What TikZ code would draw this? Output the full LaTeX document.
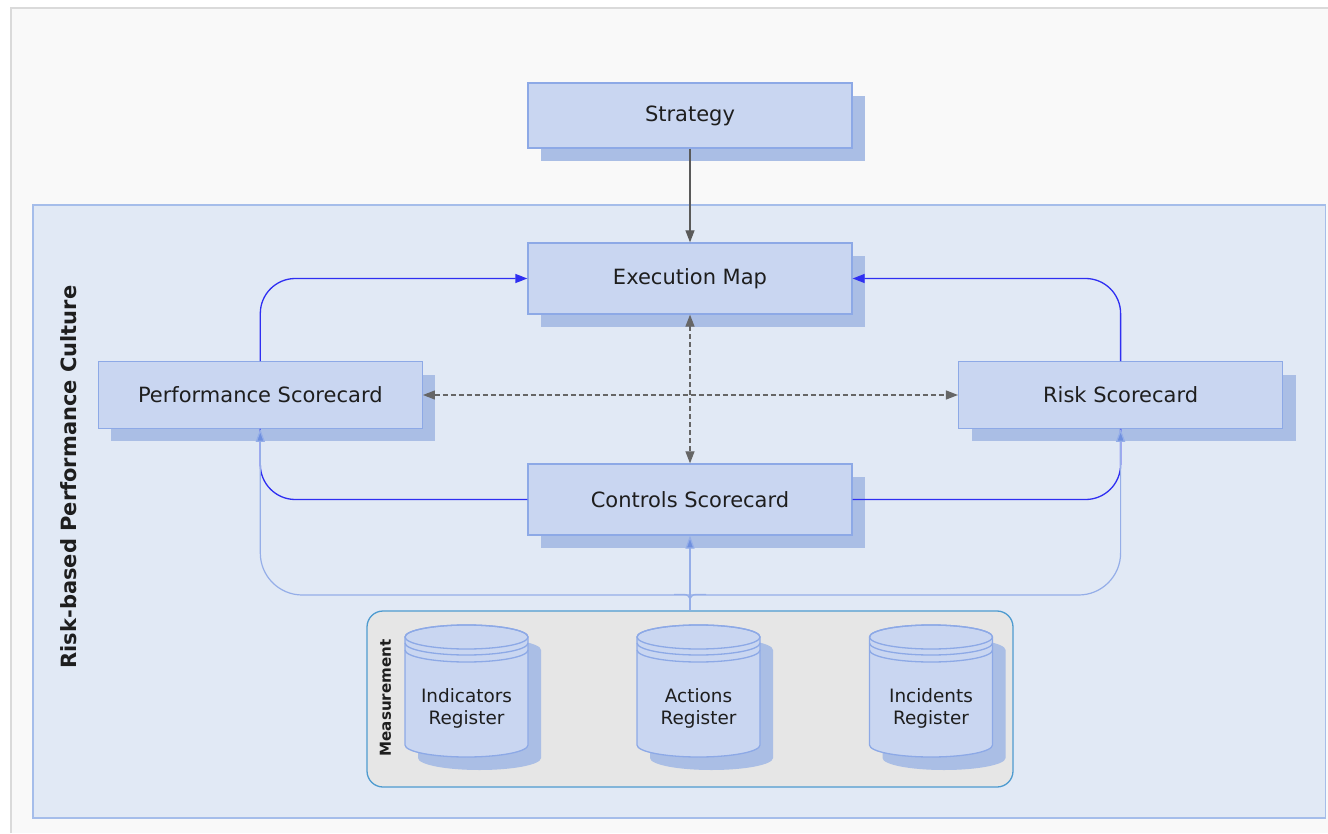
\documentclass[tikz,border=0pt]{standalone}
\usepackage{fontspec}
\setmainfont{DejaVu Sans}
\usetikzlibrary{arrows.meta,shadows}
\definecolor{boxfill}{HTML}{C9D6F1}
\definecolor{boxline}{HTML}{8DA9E6}
\definecolor{shadowc}{HTML}{AABEE5}
\definecolor{contfill}{HTML}{E1E9F5}
\definecolor{contline}{HTML}{A5BDEA}
\definecolor{bgc}{HTML}{F9F9F9}
\definecolor{framec}{HTML}{DADADA}
\definecolor{measfill}{HTML}{E6E6E6}
\definecolor{measline}{HTML}{4E9BD0}
\definecolor{darkblue}{HTML}{2F2FF2}
\definecolor{lightblue}{HTML}{95AEE8}
\definecolor{lbarrow}{HTML}{6F90DF}
\definecolor{grayarrow}{HTML}{5A5A5A}
\definecolor{dashc}{HTML}{666666}
\definecolor{txt}{HTML}{1E1E1E}
\tikzset{
  box/.style={draw=boxline, fill=boxfill, line width=1.3pt, minimum width=324pt,
    text=txt, font=\fontsize{21}{25}\selectfont, inner sep=0pt,
    general shadow={fill=shadowc, shadow xshift=13pt, shadow yshift=-13pt}},
  cyltext/.style={text=txt, font=\fontsize{18.4}{22}\selectfont, align=center, inner sep=0pt},
  tip/.style={-{Triangle[length=12pt,width=9pt]}},
  grayconn/.style={draw=grayarrow, line width=1.2pt, tip},
  dashconn/.style={draw=dashc, line width=1.2pt, dash pattern=on 5pt off 3pt,
    {Triangle[length=12pt,width=9pt]}-{Triangle[length=12pt,width=9pt]}},
  blueconn/.style={draw=darkblue, line width=1.3pt},
  lbconn/.style={draw=lightblue, line width=1.2pt},
  lbtip/.style={-{Triangle[length=13pt,width=9pt,fill=lbarrow]}, draw=lightblue, line width=1.2pt},
}
\newcommand\regcyl[4]{%
  \fill[shadowc] (#2-61.5+13,650) -- (#2-61.5+13,758)
    arc[start angle=180,end angle=0,x radius=61.5,y radius=12]
    -- (#2+61.5+13,650) arc[start angle=0,end angle=-180,x radius=61.5,y radius=12] -- cycle;
  \draw[boxline, fill=boxfill, line width=1.3pt] (#2-61.5,637) -- (#2-61.5,745)
    arc[start angle=180,end angle=0,x radius=61.5,y radius=12]
    -- (#2+61.5,637) arc[start angle=0,end angle=-180,x radius=61.5,y radius=12] -- cycle;
  \draw[boxline, line width=1.3pt] (#2,637) ellipse [x radius=61.5, y radius=12];
  \draw[boxline, line width=1.3pt] (#2-61.5,643) arc[start angle=180,end angle=0,x radius=61.5,y radius=12];
  \draw[boxline, line width=1.3pt] (#2-61.5,650) arc[start angle=180,end angle=0,x radius=61.5,y radius=12];
  \node[cyltext] (#1) at (#2,708) {#3\\#4};
}
\begin{document}
\begin{tikzpicture}[x=1pt,y=-1pt]
\useasboundingbox (0,0) rectangle (1328,834);
\fill[white] (0,0) rectangle (1328,834);
\fill[bgc] (11,8) rectangle (1328,833);
\draw[framec, line width=2pt] (11,833) -- (11,8) -- (1328,8);
% container
\draw[contline, fill=contfill, line width=1.5pt] (33,205) rectangle (1325.5,818);
\node[rotate=90, text=txt, font=\bfseries\fontsize{21}{25}\selectfont] (culture) at (68.5,477) {Risk-based Performance Culture};
% boxes
\node[box, minimum height=65pt] (strat) at (690,115.5) {Strategy};
\node[box, minimum height=71pt] (exec) at (690,278.5) {Execution Map};
\node[box, minimum height=66.5pt] (perf) at (260.3,395) {Performance Scorecard};
\node[box, minimum height=66.5pt] (risk) at (1120.6,395) {Risk Scorecard};
\node[box, minimum height=71pt] (ctrl) at (690,499.5) {Controls Scorecard};
% measurement
\node[draw=measline, fill=measfill, line width=1.3pt, rounded corners=16pt,
  minimum width=646pt, minimum height=176pt, inner sep=0pt] (meas) at (690,699) {};
\node[rotate=90, text=txt, font=\bfseries\fontsize{15.1}{18}\selectfont] (mlabel) at (385.5,698) {Measurement};
\regcyl{ind}{466.5}{Indicators}{Register}
\regcyl{act}{698.5}{Actions}{Register}
\regcyl{inc}{931}{Incidents}{Register}
% connectors
\draw[grayconn] (strat) -- (exec);
\draw[blueconn, rounded corners=35pt, tip] (perf.north) |- (exec.west);
\draw[blueconn, rounded corners=35pt, tip] (risk.north) |- (exec.east);
\draw[blueconn, rounded corners=35pt] (ctrl.west) -| (perf.south);
\draw[blueconn, rounded corners=35pt] (ctrl.east) -| (risk.south);
\coordinate (jn) at (690,595);
\draw[lbconn, rounded corners=6pt] (meas.north) -- ++(0,-16) -- ++(-16,0);
\draw[lbconn, rounded corners=6pt] (meas.north) -- ++(0,-16) -- ++(16,0);
\draw[lbtip, rounded corners=42pt] (jn) -| (perf.south);
\draw[lbtip, rounded corners=42pt] (jn) -| (risk.south);
\draw[lbtip] (meas.north) -- (ctrl.south);
\draw[dashconn] (exec.south) -- (ctrl.north);
\draw[dashconn] (perf.east) -- (risk.west);
\end{tikzpicture}
\end{document}
